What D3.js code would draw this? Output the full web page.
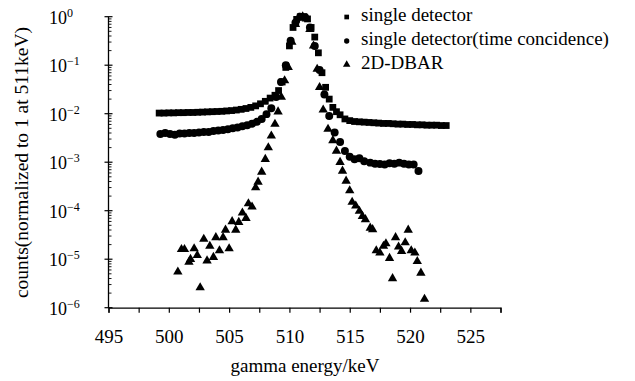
<!DOCTYPE html>
<html>
<head>
<meta charset="utf-8">
<script src="https://cdn.jsdelivr.net/npm/d3@7"></script>
<style>
  body { margin: 0; background: #fff; }
  svg text { font-family: "Liberation Serif", "DejaVu Serif", serif !important; fill: #000; }
</style>
</head>
<body>
<div id="chart"></div>
<script>
// single detector (squares)
const singleE = [499.2, 499.6, 500.0, 500.4, 500.8, 501.2, 501.6, 502.0, 502.4, 502.8, 503.2, 503.6, 504.0, 504.4,
    504.8, 505.2, 505.6, 506.0, 506.4, 506.8, 507.2, 507.6, 508.0, 508.4, 508.8, 509.1, 509.4, 509.7, 510.0, 510.3,
    510.6, 510.9, 511.2, 511.5, 511.8, 512.1, 512.4, 512.7, 513.0, 513.3, 513.6, 513.9, 514.2, 514.6, 515.0, 515.4,
    515.8, 516.2, 516.6, 517.0, 517.4, 517.8, 518.2, 518.6, 519.0, 519.4, 519.8, 520.2, 520.6, 521.0, 521.4, 521.8,
    522.2, 522.6, 523.0];
const singleV = [0.0103, 0.0103, 0.0104, 0.0104, 0.0105, 0.0105, 0.0106, 0.0106, 0.0107, 0.0108, 0.0109, 0.011, 0.0111, 0.0112,
    0.0114, 0.0116, 0.0119, 0.0123, 0.0128, 0.0135, 0.0145, 0.016, 0.018, 0.021, 0.024, 0.03, 0.045, 0.09, 0.25, 0.6,
    0.88, 1.0, 1.0, 0.9, 0.6, 0.38, 0.18, 0.07, 0.035, 0.02, 0.0135, 0.011, 0.0095, 0.0078, 0.0072, 0.0069,
    0.0068, 0.0067, 0.0066, 0.0065, 0.0064, 0.0063, 0.0063, 0.0062, 0.0061, 0.0061, 0.006, 0.006, 0.0059, 0.0059, 0.0058, 0.0058,
    0.0058, 0.0057, 0.0057];

// single detector (time coincidence) (circles)
const coincE = [499.3, 499.7, 500.1, 500.5, 500.9, 501.3, 501.7, 502.1, 502.5, 502.9, 503.3, 503.7, 504.1, 504.5,
    504.9, 505.3, 505.7, 506.1, 506.5, 506.9, 507.3, 507.7, 508.1, 508.5, 508.9, 509.3, 509.7, 510.1, 510.5, 510.9,
    511.3, 511.7, 512.1, 512.5, 512.9, 513.3, 513.75, 514.2, 514.6, 515.0, 515.4, 515.8, 516.2, 516.7, 517.1, 517.5,
    517.9, 518.3, 518.7, 519.1, 519.5, 519.9, 520.3, 520.7];
const coincV = [0.0038, 0.004, 0.0038, 0.0037, 0.0039, 0.0039, 0.004, 0.004, 0.0041, 0.0042, 0.0042, 0.0044, 0.0045, 0.0046,
    0.0048, 0.005, 0.0052, 0.0055, 0.0058, 0.0062, 0.0068, 0.0078, 0.0098, 0.013, 0.022, 0.045, 0.1, 0.32, 0.75, 1.0,
    0.98, 0.6, 0.25, 0.08, 0.025, 0.009, 0.0041, 0.0026, 0.0017, 0.0013, 0.00115, 0.0012, 0.00105, 0.00098, 0.00093, 0.00092,
    0.0009, 0.00095, 0.00093, 0.00098, 0.00093, 0.0009, 0.0009, 0.00066];

// 2D-DBAR (triangles)
const dbarE = [500.75, 501.05, 501.3, 501.67, 501.8, 502.1, 502.36, 502.6, 502.9, 503.17, 503.4, 503.7, 503.9, 504.2,
    504.5, 504.7, 505.0, 505.25, 505.55, 505.8, 506.1, 506.4, 506.6, 506.9, 507.2, 507.4, 507.7, 508.0, 508.25, 508.5,
    508.8, 509.06, 509.33, 509.6, 509.9, 510.2, 510.5, 510.8, 511.1, 511.4, 511.7, 512.0, 512.3, 512.5, 512.8, 513.2,
    513.6, 513.9, 514.2, 514.4, 514.7, 515.0, 515.2, 515.5, 515.8, 516.05, 516.3, 516.7, 516.9, 517.2, 517.5, 517.8,
    518.0, 518.3, 518.55, 518.8, 519.05, 519.3, 519.6, 519.85, 520.1, 520.4, 520.6, 520.9, 521.2];
const dbarV = [5.5e-6, 1.6e-5, 1.6e-5, 8.7e-6, 1.0e-5, 1.65e-5, 1.2e-5, 2.6e-6, 2.6e-5, 9.3e-6, 1.86e-5, 1.1e-5, 2.8e-5, 1.5e-5,
    2.8e-5, 4e-5, 1.65e-5, 6e-5, 4e-5, 5.8e-5, 9e-5, 7e-5, 1.4e-4, 1.2e-4, 3e-4, 3.9e-4, 6.3e-4, 1.15e-3, 2e-3, 3.5e-3,
    6.1e-3, 0.011, 0.022, 0.048, 0.091, 0.3, 0.7, 0.95, 1.0, 0.9, 0.55, 0.25, 0.083, 0.035, 0.012, 0.0048,
    0.0028, 0.0017, 0.001, 6.6e-4, 4.1e-4, 2.6e-4, 1.5e-4, 1.26e-4, 9.8e-5, 7.7e-5, 6.6e-5, 4.4e-5, 4.1e-5, 1.5e-5, 1.35e-5, 1.86e-5,
    2.1e-5, 1.05e-5, 4e-6, 2.8e-5, 1.8e-5, 1.46e-5, 2.2e-5, 4e-5, 1.5e-5, 1.35e-5, 9e-6, 5.2e-6, 1.5e-6];

const xTicks = [495, 500, 505, 510, 515, 520, 525];
const yExponents = [0, -1, -2, -3, -4, -5, -6];
const legendLabels = ['single detector', 'single detector(time concidence)', '2D-DBAR'];

const serif = '"Liberation Serif", "DejaVu Serif", serif';
const width = 635, height = 381;
const svg = d3.select('#chart').append('svg')
    .attr('width', width)
    .attr('height', height)
    .attr('font-family', serif);

const x = d3.scaleLinear().domain([495, 527.5]).range([108.5, 500.5]);
const y = d3.scaleLog().domain([1e-6, 1]).range([307.7, 16.7]);

// x axis
const xAxis = svg.append('g')
    .attr('transform', `translate(0,${y(1e-6)})`)
    .call(d3.axisBottom(x)
        .tickValues(d3.range(495, 527.6, 2.5))
        .tickSize(5)
        .tickFormat(d => xTicks.includes(d) ? d : ''));
xAxis.attr('font-family', serif);
xAxis.select('.domain').attr('stroke', '#000').attr('stroke-width', 1.3);
xAxis.selectAll('.tick line').attr('stroke', '#000').attr('stroke-width', 1.2);
xAxis.selectAll('.tick text')
    .attr('y', 22)
    .style('font-family', serif)
    .style('font-size', '19px');

// y axis
const yAxis = svg.append('g')
    .attr('transform', `translate(${x(495)},0)`);
yAxis.append('line')
    .attr('y1', y(1)).attr('y2', y(1e-6))
    .attr('stroke', '#000').attr('stroke-width', 1.3);
const minor = [];
for (let e = -6; e < 0; e++) {
    for (let m = 2; m <= 9; m++) minor.push(m * Math.pow(10, e));
}
yAxis.selectAll('line.minor')
    .data(minor)
    .join('line')
    .attr('class', 'minor')
    .attr('x1', 0).attr('x2', 3)
    .attr('y1', d => y(d)).attr('y2', d => y(d))
    .attr('stroke', '#000').attr('stroke-width', 0.9);
yAxis.selectAll('line.major')
    .data(yExponents)
    .join('line')
    .attr('class', 'major')
    .attr('x1', -4).attr('x2', 4)
    .attr('y1', d => y(Math.pow(10, d))).attr('y2', d => y(Math.pow(10, d)))
    .attr('stroke', '#000').attr('stroke-width', 1.2);
const yLabels = svg.selectAll('text.ylab')
    .data(yExponents)
    .join('text')
    .attr('class', 'ylab')
    .attr('x', 49)
    .attr('y', d => y(Math.pow(10, d)) + 7)
    .style('font-family', serif)
    .style('font-size', '18px');
yLabels.append('tspan').text('10');
yLabels.append('tspan')
    .attr('dy', -7)
    .style('font-size', '12px')
    .text(d => d === 0 ? '0' : '\u2212' + (-d));

// axis titles
svg.append('text')
    .attr('transform', 'translate(21,162.5) rotate(-90)')
    .attr('text-anchor', 'middle')
    .attr('dy', '0.35em')
    .style('font-family', serif)
    .style('font-size', '19.5px')
    .text('counts(normalized to 1 at 511keV)');
svg.append('text')
    .attr('x', 305)
    .attr('y', 372)
    .attr('text-anchor', 'middle')
    .style('font-family', serif)
    .style('font-size', '19px')
    .text('gamma energy/keV');

// data
const series = [
    {e: singleE, v: singleV, type: d3.symbolSquare, size: 46},
    {e: coincE, v: coincV, type: d3.symbolCircle, size: 50},
    {e: dbarE, v: dbarV, type: d3.symbolTriangle, size: 38}
];
series.forEach(s => {
    const pts = s.e.map((e, j) => ({e: e, v: s.v[j]}));
    svg.append('g').selectAll('path')
        .data(pts)
        .join('path')
        .attr('transform', d => `translate(${x(d.e)},${y(d.v)})`)
        .attr('d', d3.symbol().type(s.type).size(s.size))
        .attr('fill', '#000');
});

// legend
const legend = svg.append('g');
const legendY = [15, 39, 62.5];
legend.selectAll('path')
    .data(series)
    .join('path')
    .attr('transform', (d, i) => `translate(346.7,${legendY[i] + 2})`)
    .attr('d', (d, i) => d3.symbol().type(d.type).size(i === 2 ? 24 : 22)())
    .attr('fill', '#000');
legend.selectAll('text')
    .data(legendLabels)
    .join('text')
    .attr('x', 361)
    .attr('y', (d, i) => legendY[i] + 6)
    .style('font-family', serif)
    .style('font-size', '19px')
    .text(d => d);
</script>
</body>
</html>
